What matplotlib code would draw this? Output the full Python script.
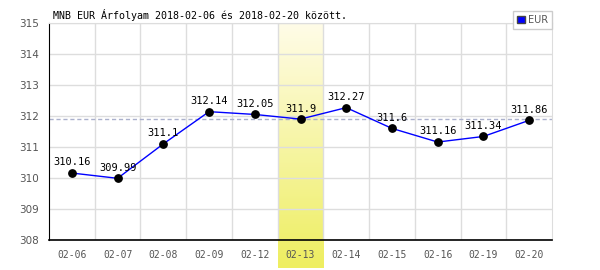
import numpy as np
import matplotlib.pyplot as plt
from matplotlib.patches import Patch
from matplotlib.colors import LinearSegmentedColormap

# data
dates = ['02-06', '02-07', '02-08', '02-09', '02-12', '02-13',
         '02-14', '02-15', '02-16', '02-19', '02-20']
rates = [310.16, 309.99, 311.1, 312.14, 312.05, 311.9,
         312.27, 311.6, 311.16, 311.34, 311.86]
labels = ['310.16', '309.99', '311.1', '312.14', '312.05', '311.9',
          '312.27', '311.6', '311.16', '311.34', '311.86']
highlight = 5  # 02-13
y_ticks = [308, 309, 310, 311, 312, 313, 314, 315]

mono = 'DejaVu Sans Mono'

fig = plt.figure(figsize=(6, 2.7), dpi=100)
ax = fig.add_axes([49 / 600, 1 - 240 / 270, (552 - 49) / 600, (240 - 23) / 270])

x = np.arange(len(dates))
ax.set_xlim(-0.5, len(dates) - 0.5)
ax.set_ylim(308, 315)

# highlighted day: vertical gradient band reaching down to the figure bottom
cmap = LinearSegmentedColormap.from_list('hl', ['#fffce8', '#eeee60'])
grad = np.linspace(0, 1, 256).reshape(-1, 1)
y_bottom = 308 - (268 - 240) / 217 * 7
band = ax.imshow(grad, cmap=cmap, aspect='auto', origin='upper',
                 extent=[highlight - 0.5, highlight + 0.5, y_bottom, 315],
                 zorder=0.5, clip_on=False)
ax.set_xlim(-0.5, len(dates) - 0.5)
ax.set_ylim(308, 315)

# grid
ax.set_xticks(x)
ax.set_xticks(x[:-1] + 0.5, minor=True)
ax.set_yticks(y_ticks)
ax.grid(True, which='minor', axis='x', color='#dddddd', linewidth=1)
ax.grid(True, which='major', axis='y', color='#dddddd', linewidth=1)
ax.set_axisbelow(True)

# reference line at highlighted day's value
ax.axhline(rates[highlight], color='#aab0cc', linestyle=(0, (3, 2)), linewidth=1, zorder=1)

ax.plot(x, rates, color='#0000ff', linewidth=1, zorder=3)
ax.scatter(x, rates, s=28, color='black', zorder=4)
for xi, yi, lab in zip(x, rates, labels):
    ax.annotate(lab, (xi, yi), xytext=(0, 4), textcoords='offset points',
                ha='center', va='bottom', fontsize=7.5, family=mono, color='black')

ax.set_xticklabels(dates, family=mono, fontsize=7, color='#555555')
ax.set_yticklabels([str(v) for v in y_ticks], fontsize=7.5, color='#555555')
ax.tick_params(axis='both', which='both', length=0, pad=7)
ax.tick_params(axis='y', pad=7)

for side in ['top', 'right']:
    ax.spines[side].set_color('#dddddd')
ax.spines['left'].set_color('black')
ax.spines['bottom'].set_color('black')
ax.spines['bottom'].set_linewidth(1.2)

fig.text(53 / 600, 1 - 15 / 270, 'MNB EUR Árfolyam 2018-02-06 és 2018-02-20 között.',
         family=mono, fontsize=7.2, color='black', va='center', ha='left')

leg = fig.legend(handles=[Patch(facecolor='#0000ff', edgecolor='#444444', label='EUR')],
                 loc='upper right', bbox_to_anchor=(552 / 600, 1 - 11 / 270),
                 frameon=True, fancybox=False, edgecolor='#cccccc', framealpha=1,
                 fontsize=7, handlelength=0.8, handleheight=0.8, handletextpad=0.3,
                 borderpad=0.4, borderaxespad=0)
for t in leg.get_texts():
    t.set_color('#555555')
leg.get_frame().set_linewidth(1)

fig.savefig('out.png', dpi=100)
